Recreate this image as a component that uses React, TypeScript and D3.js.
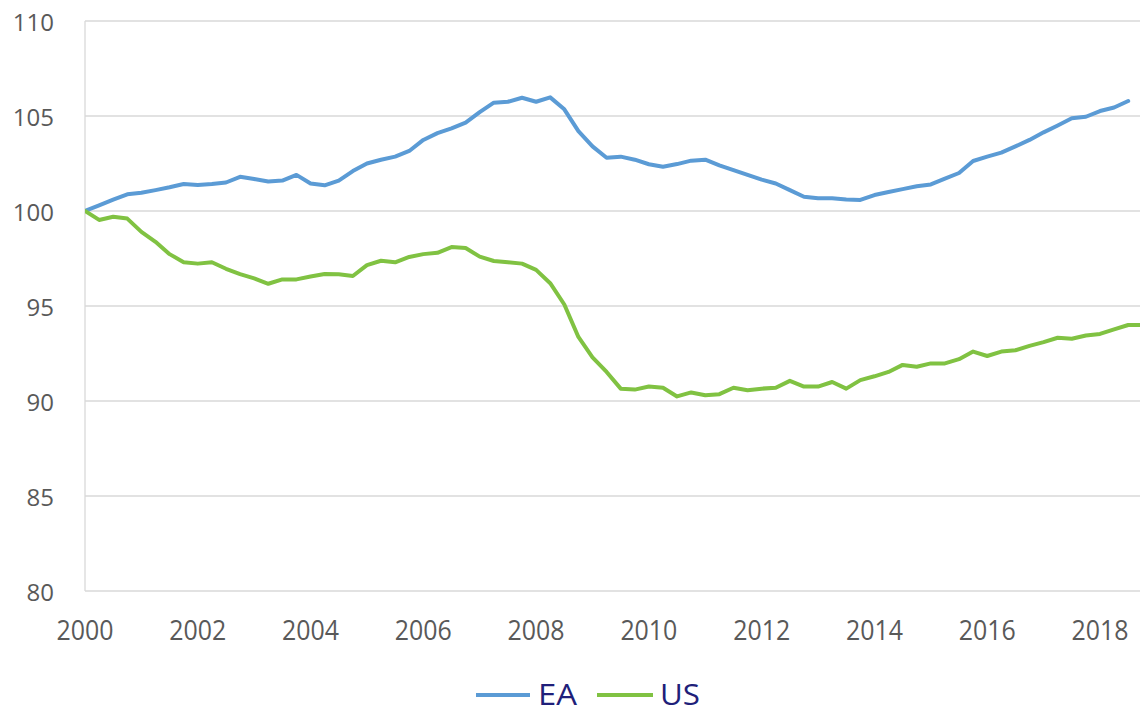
import React from "react";
import * as d3 from "d3";

const years = ["2000", "2002", "2004", "2006", "2008", "2010", "2012", "2014", "2016", "2018"];
const yTicks = [80, 85, 90, 95, 100, 105, 110];

// Quarterly index, 2000Q1 = 100
const eaValues = [
  100, 100.3, 100.6, 100.88, 100.96, 101.1, 101.25, 101.42, 101.37, 101.42,
  101.5, 101.8, 101.68, 101.55, 101.6, 101.9, 101.45, 101.35, 101.6, 102.1,
  102.5, 102.7, 102.86, 103.16, 103.74, 104.1, 104.35, 104.65, 105.2, 105.7,
  105.75, 105.96, 105.75, 105.98, 105.35, 104.2, 103.4, 102.8, 102.86, 102.7,
  102.46, 102.33, 102.47, 102.65, 102.7, 102.4, 102.15, 101.9, 101.65, 101.45,
  101.1, 100.75, 100.67, 100.67, 100.6, 100.58, 100.84, 101.0, 101.15, 101.3,
  101.4, 101.7, 102.0, 102.63, 102.86, 103.07, 103.4, 103.74, 104.14, 104.5,
  104.88, 104.96, 105.26, 105.45, 105.79,
];
const usValues = [
  100, 99.53, 99.7, 99.6, 98.9, 98.38, 97.73, 97.3, 97.23, 97.3,
  96.96, 96.68, 96.45, 96.17, 96.4, 96.4, 96.55, 96.68, 96.67, 96.58,
  97.15, 97.38, 97.3, 97.58, 97.73, 97.8, 98.1, 98.05, 97.6, 97.37,
  97.3, 97.23, 96.9, 96.2, 95.08, 93.37, 92.3, 91.53, 90.65, 90.6,
  90.76, 90.7, 90.24, 90.45, 90.3, 90.36, 90.7, 90.57, 90.65, 90.7,
  91.06, 90.76, 90.76, 91.0, 90.65, 91.1, 91.3, 91.53, 91.9, 91.8,
  91.98, 91.98, 92.2, 92.6, 92.37, 92.6, 92.67, 92.9, 93.1, 93.33,
  93.28, 93.45, 93.53, 93.77, 94.0, 94.0,
];

const series = [
  { name: "EA", values: eaValues, color: "#5B9BD5" },
  { name: "US", values: usValues, color: "#80C242" },
];

export default function App() {
  const W = 1140, H = 713;
  const left = 85, right = 1140, top = 21, bottom = 591;
  const x = d3.scaleLinear().domain([0, 72]).range([left, 1100]);
  const y = d3.scaleLinear().domain([80, 110]).range([bottom, top]);
  const line = d3
    .line<number>()
    .x((_, i) => x(i))
    .y((d) => y(d))
    .curve(d3.curveLinear);
  const font = "'Open Sans', 'Noto Sans', sans-serif";
  return (
    <svg
      width={W}
      height={H}
      style={{ position: "absolute", left: 0, top: 0, background: "#fff" }}
    >
      <defs>
        <clipPath id="plot">
          <rect x={left} y={0} width={right - left} height={H} />
        </clipPath>
      </defs>
      {yTicks.map((t) => (
        <g key={t}>
          <line
            x1={left}
            x2={right}
            y1={y(t)}
            y2={y(t)}
            stroke="#D9D9D9"
            strokeWidth={1.3}
          />
          <text
            x={54}
            y={y(t)}
            textAnchor="end"
            dominantBaseline="central"
            fontFamily={font}
            fontSize={24}
            fill="#595959"
          >
            {t}
          </text>
        </g>
      ))}
      <line x1={left} x2={left} y1={top} y2={bottom} stroke="#D9D9D9" strokeWidth={1.3} />
      {years.map((yr, k) => (
        <text
          key={yr}
          x={x(k * 8)}
          y={640}
          textAnchor="middle"
          fontFamily={font}
          fontSize={27}
          textLength={57}
          lengthAdjust="spacingAndGlyphs"
          fill="#595959"
        >
          {yr}
        </text>
      ))}
      <g clipPath="url(#plot)">
        {series.map((s) => (
          <path
            key={s.name}
            d={line(s.values) || ""}
            fill="none"
            stroke={s.color}
            strokeWidth={4}
            strokeLinejoin="round"
            strokeLinecap="round"
          />
        ))}
      </g>
      <g>
        <line x1={476} x2={530} y1={695} y2={695} stroke={series[0].color} strokeWidth={4} />
        <text
          x={538}
          y={705}
          fontFamily={font}
          fontSize={30}
          textLength={39}
          lengthAdjust="spacingAndGlyphs"
          fill="#1F1F7A"
        >
          EA
        </text>
        <line x1={597} x2={653} y1={695} y2={695} stroke={series[1].color} strokeWidth={4} />
        <text
          x={660}
          y={705}
          fontFamily={font}
          fontSize={30}
          textLength={40}
          lengthAdjust="spacingAndGlyphs"
          fill="#1F1F7A"
        >
          US
        </text>
      </g>
    </svg>
  );
}
